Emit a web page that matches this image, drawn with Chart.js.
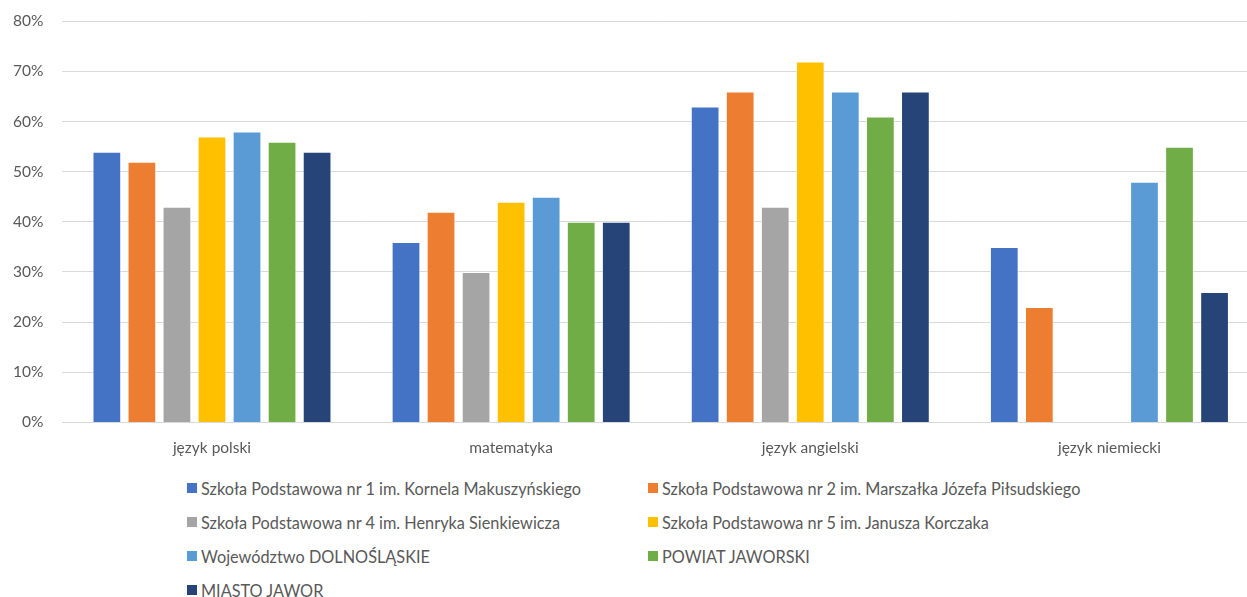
<!DOCTYPE html>
<html>
<head>
<meta charset="utf-8">
<script src="https://cdn.jsdelivr.net/npm/chart.js@4/dist/chart.umd.min.js"></script>
<style>
    body { margin: 0; background: #ffffff; font-family: Lato, "Open Sans", sans-serif; overflow: hidden; }
    #wrap { position: relative; width: 1247px; height: 597px; overflow: hidden; }
    #chart_box { position: absolute; left: -6px; top: -7px; width: 1267px; height: 472px; }
    #legend { position: absolute; left: 187px; top: 471px; display: grid;
              grid-template-columns: 461px 500px; grid-auto-rows: 34px; }
    .legend_item { display: flex; align-items: center; color: #595959; font-size: 16.3px; white-space: nowrap; }
    .legend_box { width: 10px; height: 10px; margin-right: 4px; flex: none; }
</style>
</head>
<body>
<div id="wrap">
    <div id="chart_box"><canvas id="results_chart"></canvas></div>
    <div id="legend"></div>
</div>
<script>
const subject_labels = ['język polski', 'matematyka', 'język angielski', 'język niemiecki'];

const series_names = [
    'Szkoła Podstawowa nr 1 im. Kornela Makuszyńskiego',
    'Szkoła Podstawowa nr 2 im. Marszałka Józefa Piłsudskiego',
    'Szkoła Podstawowa nr 4 im. Henryka Sienkiewicza',
    'Szkoła Podstawowa nr 5 im. Janusza Korczaka',
    'Województwo DOLNOŚLĄSKIE',
    'POWIAT JAWORSKI',
    'MIASTO JAWOR',
];

const sp1_values = [54, 36, 63, 35];
const sp2_values = [52, 42, 66, 23];
const sp4_values = [43, 30, 43, null];
const sp5_values = [57, 44, 72, null];
const region_values = [58, 45, 66, 48];
const county_values = [56, 40, 61, 55];
const town_values = [54, 40, 66, 26];

const series_colors = ['#4472C4', '#ED7D31', '#A5A5A5', '#FFC000', '#5B9BD5', '#70AD47', '#264478'];

const y_ticks = [0, 10, 20, 30, 40, 50, 60, 70, 80];

const series_values = [sp1_values, sp2_values, sp4_values, sp5_values, region_values, county_values, town_values];

const chart_datasets = series_names.map(function (name, idx) {
    return {
        label: name,
        data: series_values[idx],
        backgroundColor: series_colors[idx],
        borderColor: 'rgba(255, 255, 255, 0.6)',
        borderWidth: 1,
        categoryPercentage: 0.82,
        barPercentage: 0.82,
    };
});

const results_chart = new Chart(document.getElementById('results_chart').getContext('2d'), {
    type: 'bar',
    data: { labels: subject_labels, datasets: chart_datasets },
    options: {
        responsive: true,
        maintainAspectRatio: false,
        animation: false,
        layout: { padding: { top: 6, right: 2, left: 0, bottom: 0 } },
        plugins: {
            legend: { display: false },
            tooltip: { enabled: false },
        },
        scales: {
            x: {
                grid: { display: false },
                border: { display: true, color: '#d9d9d9', width: 1 },
                ticks: { color: '#595959', font: { family: 'Lato', size: 15.5 }, padding: 8 },
            },
            y: {
                min: 0,
                max: 80,
                afterBuildTicks: function (axis) {
                    axis.ticks = y_ticks.map(function (v) { return { value: v }; });
                },
                border: { display: false },
                grid: { color: '#d9d9d9', lineWidth: 1, drawTicks: false },
                ticks: {
                    color: '#595959',
                    font: { family: 'Lato', size: 15.5 },
                    padding: 19,
                    callback: function (v) { return v + '%'; },
                },
            },
        },
    },
});

const legend_el = document.getElementById('legend');
results_chart.data.datasets.forEach(function (ds) {
    const item = document.createElement('div');
    item.className = 'legend_item';
    const box = document.createElement('span');
    box.className = 'legend_box';
    box.style.background = ds.backgroundColor;
    const text = document.createElement('span');
    text.textContent = ds.label;
    item.appendChild(box);
    item.appendChild(text);
    legend_el.appendChild(item);
});
</script>
</body>
</html>
